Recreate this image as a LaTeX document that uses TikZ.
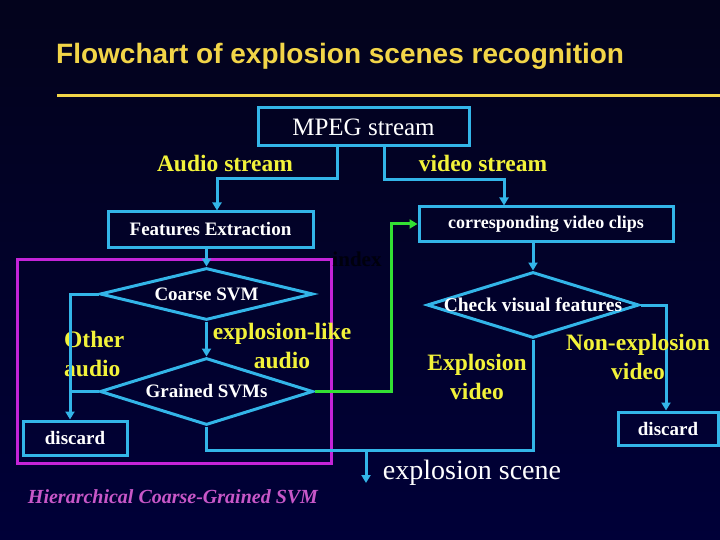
\documentclass[tikz,border=0pt]{standalone}
\usepackage{fontspec}
\setmainfont{Liberation Serif}
\newfontfamily\headfont{Liberation Sans}
\usetikzlibrary{arrows.meta,shapes.geometric}
\definecolor{bgtop}{HTML}{03031C}
\definecolor{bgbottom}{HTML}{000038}
\definecolor{flowcyan}{HTML}{33B5E8}
\definecolor{titleyellow}{HTML}{F2D548}
\definecolor{labelyellow}{HTML}{F2F23A}
\definecolor{groupmagenta}{HTML}{C424D8}
\definecolor{grouptext}{HTML}{C857C8}
\definecolor{indexgreen}{HTML}{33E033}
\definecolor{hiddentext}{HTML}{00000C}
\newcommand{\boxfont}{\fontsize{19}{22}\selectfont\bfseries}
\newcommand{\labelfont}{\fontsize{23.5}{28.5}\selectfont\bfseries}
\tikzset{
  procbox/.style={draw=flowcyan,line width=3pt,inner sep=0pt,text=white,font=\boxfont},
  decision/.style={diamond,draw=flowcyan,line width=3pt,inner sep=0pt},
  flow/.style={draw=flowcyan,line width=3pt},
  flowarrow/.style={flow,-{Triangle[length=8pt,width=9pt]}},
  branchlabel/.style={text=labelyellow,font=\labelfont,align=center,inner sep=0pt},
}

\begin{document}
\begin{tikzpicture}[x=1pt,y=-1pt]
  \shade[top color=bgtop,bottom color=bgbottom] (0,0) rectangle (720,540);
  \useasboundingbox (0,0) rectangle (720,540);

  \node[anchor=west,inner sep=0pt,text=titleyellow,font=\headfont\bfseries\fontsize{28}{33}\selectfont] (title) at (56,56) {Flowchart of explosion scenes recognition};
  \draw[titleyellow,line width=3pt] (57,96) -- (720,96);

  \draw[groupmagenta,line width=3pt] (17,259) rectangle (331,463);

  \node[procbox,minimum width=211pt,minimum height=38pt,font=\fontsize{25}{30}\selectfont] (mpeg) at (363.5,127) {MPEG stream};
  \node[branchlabel] (audiolbl) at (225,163) {Audio stream};
  \node[branchlabel] (videolbl) at (483,163) {video stream};
  \node[procbox,minimum width=205pt,minimum height=35pt] (feat) at (210.5,229.5) {Features Extraction};
  \node[procbox,minimum width=254pt,minimum height=34pt,font=\fontsize{18}{22}\selectfont\bfseries] (clips) at (546,224) {corresponding video clips};
  \node[text=hiddentext,font=\fontsize{21}{24}\selectfont\bfseries,inner sep=0pt] (index) at (357,259) {index};

  \node[decision,minimum width=213pt,minimum height=52pt,label={[text=white,font=\boxfont]center:Coarse SVM}] (coarse) at (206.5,294) {};
  \node[decision,minimum width=213pt,minimum height=67pt,label={[text=white,font=\boxfont]center:Grained SVMs}] (grained) at (206.5,391.5) {};
  \node[procbox,minimum width=104pt,minimum height=34pt] (discardL) at (75,438) {discard};
  \node[decision,minimum width=212pt,minimum height=66pt,label={[text=white,font=\fontsize{19.5}{22}\selectfont\bfseries]center:Check visual features}] (check) at (533,305) {};
  \node[procbox,minimum width=100pt,minimum height=33pt] (discardR) at (668,428.5) {discard};

  \node[branchlabel,anchor=west,align=left] (otherlbl) at (64,354) {Other\\audio};
  \node[branchlabel] (explike) at (282,346) {explosion-like\\audio};
  \node[branchlabel] (explvid) at (477,377) {Explosion\\video};
  \node[text=white,font=\fontsize{28}{32}\selectfont,inner sep=0pt] (scene) at (472,473) {explosion scene};
  \node[text=grouptext,font=\fontsize{20}{24}\selectfont\bfseries\itshape,inner sep=0pt] (hcsvm) at (173,497) {Hierarchical Coarse-Grained SVM};

  \coordinate (atap) at (337,0);
  \coordinate (vtap) at (384,0);
  \coordinate (abend) at (217,179);
  \coordinate (vbend) at (504,180);
  \coordinate (lrail) at (70,0);
  \coordinate (rrail) at (666,0);
  \coordinate (merge) at (366,450);
  \coordinate (sceneend) at (366,483);
  \coordinate (gbend) at (391,224);

  \draw[flowarrow] (mpeg.south -| atap) |- (abend) -- (abend |- feat.north);
  \draw[flowarrow] (mpeg.south -| vtap) |- (vbend) -- (vbend |- clips.north);
  \draw[flowarrow] (feat.south -| coarse.north) -- (coarse.north);
  \draw[flowarrow] (coarse.south) -- (grained.north);
  \draw[flowarrow] (coarse.west) -| (discardL.north -| lrail);
  \draw[flow] (grained.west) -- (grained.west -| lrail);
  \draw[flow] (grained.south) |- (merge) -| (check.south);
  \draw[flowarrow] (merge) -- (sceneend);
  \draw[flowarrow] (clips.south -| check.north) -- (check.north);
  \draw[flowarrow] (check.east) -| (discardR.north -| rrail);
  \draw[indexgreen,line width=3pt,-{Triangle[length=8pt,width=9pt]}] (grained.east) -| (gbend) -- (clips.west);

  \node[branchlabel] (nonexpl) at (638,357) {Non-explosion\\video};
\end{tikzpicture}
\end{document}
